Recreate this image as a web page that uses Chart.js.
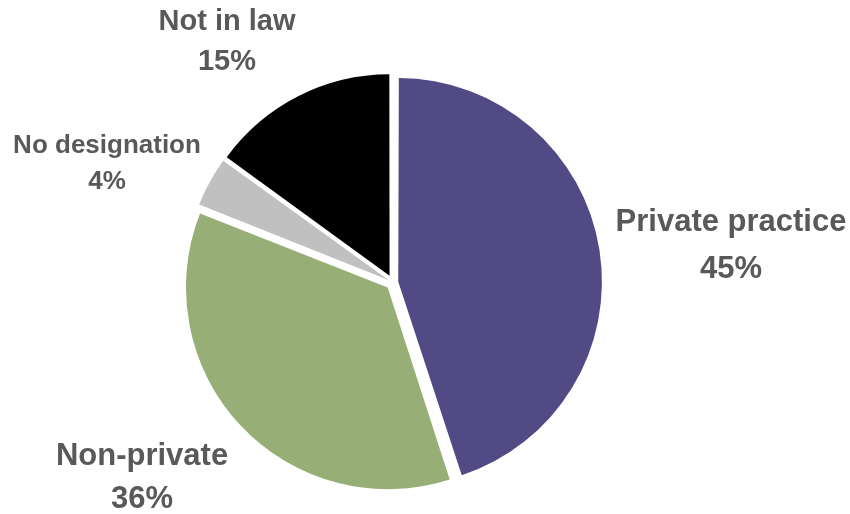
<!DOCTYPE html>
<html>
<head>
<meta charset="utf-8">
<script src="https://cdn.jsdelivr.net/npm/chart.js@4"></script>
<style>
  html, body { margin: 0; padding: 0; background: #ffffff; }
  #wrap { width: 850px; height: 514px; position: relative; }
</style>
</head>
<body>
<div id="wrap"><canvas id="pie"></canvas></div>
<script>
// Share of designations, clockwise from 12 o'clock
const categories = ['Private practice', 'Non-private', 'No designation', 'Not in law'];
const shares = [45, 36, 4, 15];
const sliceColors = ['#524A84', '#97AF76', '#C0C0C0', '#000000'];

// Where each two-line label sits and how large it is drawn
const labelStyle = [
  { x: 731, y: 222, size: 31, gap: 47 },
  { x: 142, y: 456, size: 31, gap: 43 },
  { x: 107, y: 146, size: 26, gap: 36 },
  { x: 227, y: 22,  size: 29, gap: 40 }
];

// Every slice is pulled out of the centre by the same distance.
// ArcElement shifts a slice by offset/4 * (2 - sin(sweep)), so invert that.
const EXPLODE_PX = 9;
const total = shares.reduce((a, b) => a + b, 0);
const sliceOffsets = shares.map(v => {
  const sweep = Math.min(Math.PI, 2 * Math.PI * v / total);
  return 4 * EXPLODE_PX / (2 - Math.sin(sweep));
});

const sliceLabels = {
  id: 'sliceLabels',
  afterDatasetsDraw(chart) {
    const ctx = chart.ctx;
    ctx.save();
    ctx.fillStyle = '#595959';
    ctx.textAlign = 'center';
    ctx.textBaseline = 'middle';
    categories.forEach((name, i) => {
      const s = labelStyle[i];
      ctx.font = 'bold ' + s.size + 'px "Liberation Sans", Arial, sans-serif';
      ctx.fillText(name, s.x, s.y);
      ctx.fillText(shares[i] + '%', s.x, s.y + s.gap);
    });
    ctx.restore();
  }
};

new Chart(document.getElementById('pie'), {
  type: 'pie',
  data: {
    labels: categories,
    datasets: [{
      data: shares,
      backgroundColor: sliceColors,
      borderWidth: 0,
      offset: sliceOffsets
    }]
  },
  options: {
    responsive: true,
    maintainAspectRatio: false,
    animation: false,
    radius: 200,
    layout: { padding: { left: 0, right: 64, top: 51, bottom: 0 } },
    plugins: {
      legend: { display: false },
      tooltip: { enabled: false }
    }
  },
  plugins: [sliceLabels]
});
</script>
</body>
</html>
